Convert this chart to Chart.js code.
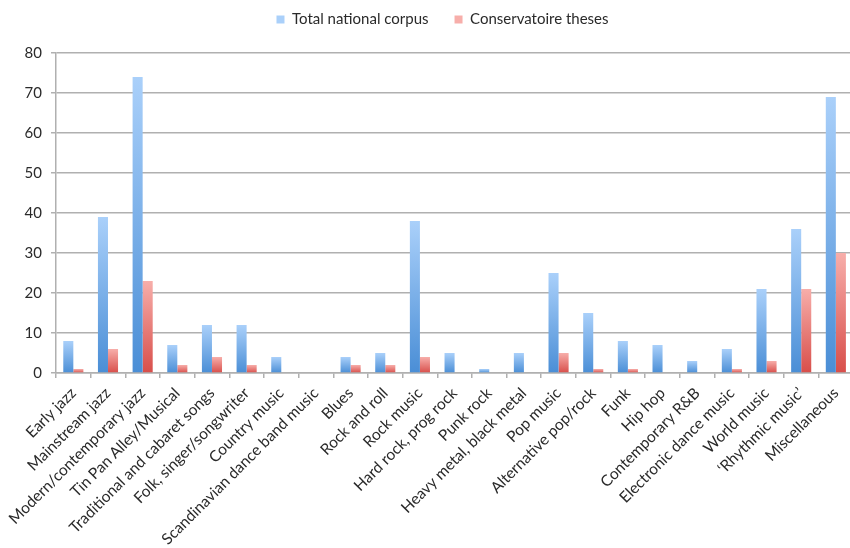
<!DOCTYPE html>
<html>
<head>
<meta charset="utf-8">
<script src="https://cdn.jsdelivr.net/npm/chart.js@4.4.1/dist/chart.umd.min.js"></script>
<style>
  html, body { margin: 0; padding: 0; background: #fff; overflow: hidden; }
  #wrap { width: 855px; height: 548px; }
</style>
</head>
<body>
<div id="wrap"><canvas id="genreChart"></canvas></div>
<script>
const genres = [
    'Early jazz', 'Mainstream jazz', 'Modern/contemporary jazz', 'Tin Pan Alley/Musical',
    'Traditional and cabaret songs', 'Folk, singer/songwriter', 'Country music',
    'Scandinavian dance band music', 'Blues', 'Rock and roll', 'Rock music',
    'Hard rock, prog rock', 'Punk rock', 'Heavy metal, black metal', 'Pop music',
    'Alternative pop/rock', 'Funk', 'Hip hop', 'Contemporary R&B',
    'Electronic dance music', 'World music', '\u2018Rhythmic music\u2019', 'Miscellaneous'
];
const nationalCorpus = [8, 39, 74, 7, 12, 12, 4, 0, 4, 5, 38, 5, 1, 5, 25, 15, 8, 7, 3, 6, 21, 36, 69];
const conservatoireTheses = [1, 6, 23, 2, 4, 2, 0, 0, 2, 2, 4, 0, 0, 0, 5, 1, 1, 0, 0, 1, 3, 21, 30];
const yTicks = [0, 10, 20, 30, 40, 50, 60, 70, 80];

const font = 'Lato, "Open Sans", sans-serif';
const textColor = '#2a2a2a';

// vertical gradient per bar: light at the top, darker at the base
const barGradient = (context, light, dark, flat) => {
    const { chart, raw } = context;
    if (typeof raw !== 'number' || !chart.chartArea) return flat;
    const y = chart.scales.y;
    const top = y.getPixelForValue(raw);
    const bottom = y.getPixelForValue(0);
    if (bottom - top < 1) return dark;
    const g = chart.ctx.createLinearGradient(0, top, 0, bottom);
    g.addColorStop(0, light);
    g.addColorStop(1, dark);
    return g;
};

// extra space under the legend, and legend nudged a bit to the right
const legendGap = {
    id: 'legendGap',
    beforeInit(chart) {
        const fit = chart.legend.fit;
        chart.legend.fit = function () {
            fit.bind(chart.legend)();
            this.height += 16;
        };
    },
    afterLayout(chart) {
        chart.legend.left += 15;
        chart.legend.right += 15;
    }
};

const ctx = document.getElementById('genreChart');

new Chart(ctx, {
    type: 'bar',
    data: {
        labels: genres,
        datasets: [{
            label: 'Total national corpus',
            data: nationalCorpus,
            backgroundColor: c => barGradient(c, '#aad0fa', '#4a8ed6', '#5b9be0'),
            borderWidth: 0,
            categoryPercentage: 0.58,
            barPercentage: 1
        }, {
            label: 'Conservatoire theses',
            data: conservatoireTheses,
            backgroundColor: c => barGradient(c, '#f7aeaa', '#d84e4a', '#e35f5b'),
            borderWidth: 0,
            categoryPercentage: 0.58,
            barPercentage: 1
        }]
    },
    plugins: [legendGap],
    options: {
        responsive: true,
        maintainAspectRatio: false,
        animation: false,
        layout: { padding: { top: -14, right: 0, left: 0, bottom: 0 } },
        plugins: {
            tooltip: { enabled: false },
            legend: {
                position: 'top',
                labels: {
                    boxWidth: 8,
                    boxHeight: 8,
                    padding: 26,
                    color: textColor,
                    font: { family: font, size: 15 }
                }
            }
        },
        scales: {
            x: {
                grid: {
                    offset: true,
                    drawOnChartArea: false,
                    drawTicks: true,
                    tickLength: 5,
                    color: '#b0b0b0',
                    lineWidth: 1.5
                },
                border: { display: true, color: '#b0b0b0', width: 1.5 },
                ticks: {
                    autoSkip: false,
                    maxRotation: 45,
                    minRotation: 45,
                    padding: 6,
                    color: textColor,
                    font: { family: font, size: 15.5 }
                },
                afterFit: scale => { scale.height = 175; }
            },
            y: {
                min: 0,
                max: 80,
                afterBuildTicks: scale => { scale.ticks = yTicks.map(v => ({ value: v })); },
                grid: {
                    color: '#b0b0b0',
                    lineWidth: 1.5,
                    tickLength: 5
                },
                border: { display: true, color: '#b0b0b0', width: 1.5 },
                ticks: {
                    padding: 9,
                    color: textColor,
                    font: { family: font, size: 15 }
                },
                afterFit: scale => { scale.width = 56; }
            }
        }
    }
});
</script>
</body>
</html>
